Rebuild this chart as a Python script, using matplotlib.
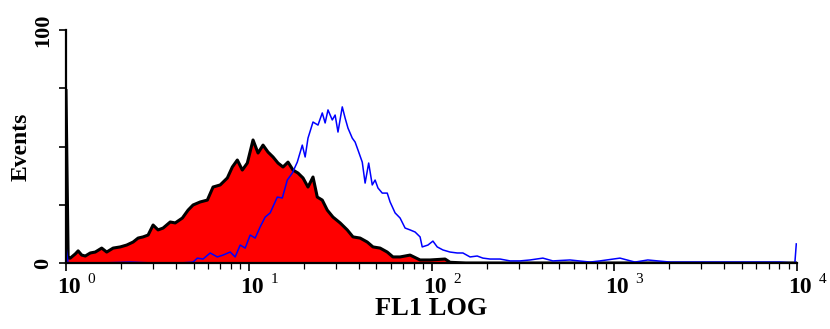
import numpy as np
import matplotlib
matplotlib.use("Agg")
import matplotlib.pyplot as plt
from matplotlib.ticker import FixedLocator, LogLocator, NullFormatter

plt.rcParams['font.family'] = ['Liberation Serif', 'DejaVu Serif']

# 1024 channels over 4 decades, FL1 = 10 ** (channel / 256)
red_channel = [0, 3, 6, 13, 17, 22, 27, 34, 41, 50, 57, 66, 76, 85, 94, 101, 108, 115,
               122, 129, 136, 146, 153, 163, 171, 178, 188, 198, 206, 216, 226, 233,
               240, 247, 254, 262, 269, 276, 283, 290, 297, 304, 311, 318, 325, 332,
               339, 346, 352, 359, 366, 374, 384, 394, 402, 412, 422, 430, 440, 450,
               458, 468, 482, 496, 510, 531, 538, 560, 1023]
red_events = [74, 2.1, 2.1, 3.9, 5.2, 3.4, 3.0, 4.3, 4.7, 6.4, 4.7, 6.4, 6.9, 7.7, 9.0,
              10.7, 11.2, 12.0, 16.3, 14.2, 15.0, 17.6, 17.2, 19.3, 22.7, 24.9, 26.2,
              27.0, 32.6, 33.5, 36.5, 41.2, 44.2, 39.9, 42.9, 52.8, 47.2, 50.6, 47.6,
              45.5, 42.9, 41.2, 43.3, 39.9, 38.6, 36.5, 32.6, 36.9, 28.3, 27.0, 22.7,
              19.7, 17.2, 14.2, 11.2, 10.7, 9.0, 6.9, 6.4, 4.7, 2.6, 2.6, 3.4, 1.3,
              1.3, 1.7, 0.3, 0, 0]

blue_channel = [0, 3, 48, 90, 122, 160, 178, 184, 192, 202, 212, 220, 230, 237, 244,
                251, 258, 265, 272, 279, 286, 296, 303, 310, 317, 324, 331, 335, 339,
                346, 353, 359, 363, 367, 373, 377, 381, 387, 391, 395, 401, 405, 409,
                415, 419, 424, 429, 433, 437, 443, 450, 454, 461, 468, 475, 482, 489,
                496, 499, 507, 514, 520, 528, 538, 548, 556, 566, 576, 584, 594, 608,
                622, 636, 650, 668, 682, 706, 734, 748, 776, 797, 815, 846, 888, 944,
                1000, 1021, 1023]
blue_events = [6.9, 0, 0, 0.4, 0, 0, 0.4, 2.1, 1.7, 4.3, 2.6, 3.4, 4.7, 2.6, 7.7,
               6.4, 12.0, 10.7, 15.5, 19.7, 21.5, 28.3, 27.9, 35.6, 38.6, 43.3, 50.6,
               45.5, 53.6, 60.5, 59.2, 64.4, 60.1, 65.7, 61.4, 63.5, 56.2, 67.0, 62.2,
               57.9, 53.6, 51.9, 48.5, 43.3, 34.3, 42.9, 33.5, 35.6, 32.2, 30.0, 30.0,
               26.2, 21.5, 19.3, 15.0, 14.2, 13.3, 11.2, 6.9, 7.7, 9.4, 6.9, 5.6, 4.7,
               4.3, 4.3, 2.6, 3.0, 2.1, 1.7, 1.7, 0.9, 0.9, 1.3, 2.1, 0.9, 1.3, 0.4,
               0.9, 2.1, 0.4, 1.3, 0.4, 0.4, 0.4, 0.4, 0, 8.2]

decades = [1, 10, 100, 1000, 10000]
decade_exponents = ['0', '1', '2', '3', '4']
y_ticks = [0, 25, 50, 75, 100]
y_labels = ['0', '', '', '', '100']

red_x = 10 ** (np.array(red_channel) / 256)
blue_x = 10 ** (np.array(blue_channel) / 256)

fig = plt.figure(figsize=(8.3, 3.29), dpi=100)
ax = fig.add_axes([66 / 830, 1 - 263 / 329, 731 / 830, 233 / 329])

ax.fill_between(red_x, red_events, 0, color='#ff0000', linewidth=0)
ax.plot(red_x, red_events, color='black', linewidth=2.2)
ax.plot(blue_x, blue_events, color='#0000ff', linewidth=1.1)

ax.set_xscale('log')
ax.set_xlim(1, 10000)
ax.set_ylim(0, 100)

ax.spines['top'].set_visible(False)
ax.spines['right'].set_visible(False)
ax.spines['left'].set_linewidth(1.6)
ax.spines['bottom'].set_linewidth(1.6)

# decade labels: bold "10" plus a plain superscript exponent
ax.xaxis.set_major_locator(FixedLocator(decades))
ax.xaxis.set_major_formatter(NullFormatter())
ax.xaxis.set_minor_locator(LogLocator(base=10, subs=np.arange(2, 10)))
ax.xaxis.set_minor_formatter(NullFormatter())
ax.tick_params(axis='x', which='major', length=6, width=1.2)
ax.tick_params(axis='x', which='minor', length=4, width=0.9)
tr = ax.get_xaxis_transform()
for d, e in zip(decades, decade_exponents):
    ax.text(d * 1.04, -0.06, '10', transform=tr, ha='center', va='top',
            fontsize=17, fontweight='bold')
    ax.text(d * 1.31, -0.045, e, transform=tr, ha='left', va='top', fontsize=11)

ax.set_yticks(y_ticks)
ax.set_yticklabels(y_labels, rotation=90, va='center', fontweight='bold')
ax.tick_params(axis='y', length=5, width=1.2, labelsize=16, pad=4)

ax.set_xlabel('FL1 LOG', fontsize=19, fontweight='bold')
ax.xaxis.set_label_coords(0.5, -0.145)
ax.set_ylabel('Events', fontsize=17, fontweight='bold')
ax.yaxis.set_label_coords(-0.047, 0.5)

fig.savefig('out.png', dpi=100)
